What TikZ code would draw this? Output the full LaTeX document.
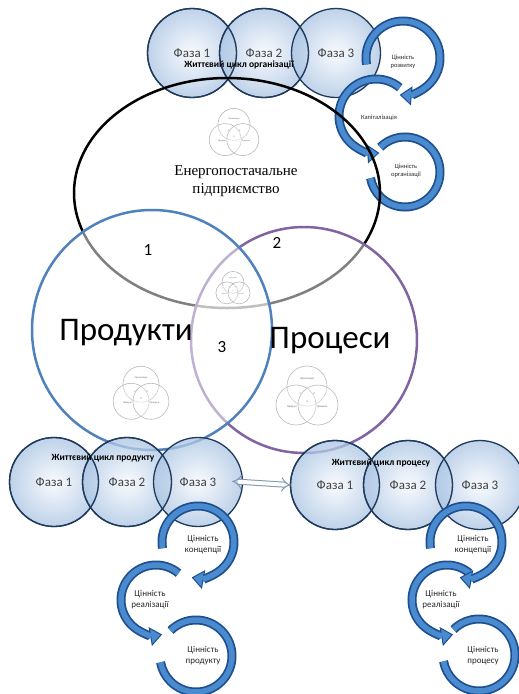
\documentclass[tikz,border=0pt]{standalone}
\usepackage{fontspec}
\setmainfont{Carlito}
\newfontfamily\seriffont{Liberation Serif}
\usetikzlibrary{arrows.meta,shapes.geometric}
\definecolor{bubblefill}{HTML}{A9C3E2}
\definecolor{bubbleinner}{HTML}{F6F9FD}
\definecolor{bubbleedge}{HTML}{1F3A5C}
\definecolor{ringblue}{HTML}{4A8BD0}
\definecolor{ringdark}{HTML}{1E4F8F}
\definecolor{procblue}{HTML}{4F81BD}
\definecolor{procpurple}{HTML}{8064A2}
\definecolor{arrowgray}{HTML}{7F95B0}
\tikzset{
  bubble/.style={circle, inner sep=0pt, minimum size=89pt, draw=bubbleedge, line width=1.3pt,
    inner color=bubbleinner, outer color=bubblefill, fill opacity=0.75, text opacity=1,
    font=\fontsize{13}{15}\selectfont, text=black!75},
  bubbleline/.style={circle, inner sep=0pt, minimum size=89pt, draw=bubbleedge, line width=1.3pt},
  lctitle/.style={font=\bfseries\fontsize{9.5}{11}\selectfont, text=black},
  ringo/.style={line width=9pt, draw=ringdark},
  ringi/.style={line width=5.5pt, draw=ringblue},
  ringtip/.style={-{Triangle[width=19pt,length=12pt,fill=ringblue,line width=1pt]}},
  ringtxt/.style={font=\fontsize{9}{11}\selectfont, align=center, text=black!85},
  smalltxt/.style={font=\fontsize{6.5}{7.5}\selectfont, align=center, text=black!85},
  bignum/.style={font=\fontsize{17}{19}\selectfont},
  biglabel/.style={font=\fontsize{33}{36}\selectfont},
  vcirc/.style={circle, draw=gray!55, line width=0.6pt, minimum size=40pt, inner sep=0pt, fill=white, fill opacity=0.3, transform shape},
  vtext/.style={font=\fontsize{2.8}{3}\selectfont, text=gray!80!black, transform shape, inner sep=0pt},
  venn/.pic={
    \node[vcirc] (-o) at (0,-12) {};
    \node[vcirc] (-p) at (-11,7) {};
    \node[vcirc] (-r) at (11,7) {};
    \node[vtext] (-to) at (0,-19) {Організація};
    \node[vtext] (-tp) at (-15,9) {Продукт};
    \node[vtext] (-tr) at (15,9) {Процеси};
    \node[vtext] (-n1) at (-7,-4) {1};
    \node[vtext] (-n2) at (7,-4) {2};
    \node[vtext] (-n3) at (0,4) {3};
  },
  dblarrow/.style={draw=arrowgray, line width=1pt, double=white, double distance=4pt,
    {Implies[scale=1.4]}-{Implies[scale=1.4]}}
}
\begin{document}
\begin{tikzpicture}[x=1pt,y=-1pt]
\useasboundingbox (0,0) rectangle (519,694);

% top life cycle bubbles
\node[bubble] (tb1) at (192,53) {Фаза 1};
\node[bubble] (tb2) at (264,53) {Фаза 2};
\node[bubble] (tb3) at (336,53) {Фаза 3};
\node[bubbleline] (tb1l) at (192,53) {};
\node[bubbleline] (tb2l) at (264,53) {};
\node[lctitle] (tt) at (239,65) {Життєвий цикл організації};

% top rings
\coordinate (ra) at (403,58);
\coordinate (rb) at (376,116);
\coordinate (rc) at (405,172);
\draw[ringo] (rc) ++(225:35) arc[start angle=225, end angle=530, radius=35];
\draw[ringi] (rc) ++(225:35) arc[start angle=225, end angle=530, radius=35];
\draw[ringo, ringtip] (rb) ++(310:37) arc[start angle=310, end angle=85, radius=37];
\draw[ringi, shorten >=11pt] (rb) ++(310:37) arc[start angle=310, end angle=85, radius=37];
\draw[ringo, ringtip] (ra) ++(170:37) arc[start angle=170, end angle=455, radius=37];
\draw[ringi, shorten >=11pt] (ra) ++(170:37) arc[start angle=170, end angle=455, radius=37];
\node[smalltxt] (ta) at (403,62) {Цінність\\розвитку};
\node[smalltxt] (tbk) at (379,118) {Капіталізація};
\node[smalltxt] (tc) at (406,171) {Цінність\\організації};

% enterprise ellipse and the two circles
\node[draw, ellipse, line width=2.5pt, minimum width=306pt, minimum height=230pt, inner sep=0pt] (org) at (227,193) {};
\node[circle, draw=procpurple, line width=2.5pt, minimum size=226pt, inner sep=0pt, fill=white, fill opacity=0.5] (proc) at (304,340) {};
\node[circle, draw=procblue, line width=2.5pt, minimum size=240pt, inner sep=0pt, fill=white, fill opacity=0.5] (prod) at (152,330) {};

\node[font=\seriffont\fontsize{15}{18}\selectfont, align=center] (ent) at (236,181) {Енергопостачальне\\підприємство};
\node[bignum] (n1) at (148,250) {1};
\node[bignum] (n2) at (277,243) {2};
\node[bignum] (n3) at (222,347) {3};
\node[biglabel] (lprod) at (126,333) {Продукти};
\node[biglabel] (lproc) at (330,341) {Процеси};

\pic[scale=0.8] (ic1) at (234,134) {venn};
\pic[scale=0.55] (ic2) at (233,289) {venn};
\pic[scale=0.9] (ic3) at (141,395) {venn};
\pic[scale=1.0] (ic4) at (307,398) {venn};

% bottom-left bubbles
\node[bubble] (pb1) at (54,482) {Фаза 1};
\node[bubble] (pb2) at (127,482) {Фаза 2};
\node[bubble] (pb3) at (198,482) {Фаза 3};
\node[bubbleline] (pb1l) at (54,482) {};
\node[bubbleline] (pb2l) at (127,482) {};
\node[lctitle] (pt) at (103,458) {Життєвий цикл продукту};

% bottom-right bubbles
\node[bubble] (rb1) at (335,485) {Фаза 1};
\node[bubble] (rb2) at (408,485) {Фаза 2};
\node[bubble] (rb3) at (480,485) {Фаза 3};
\node[bubbleline] (rb1l) at (335,485) {};
\node[bubbleline] (rb2l) at (408,485) {};
\node[lctitle] (rt) at (381,463) {Життєвий цикл процесу};

\draw[dblarrow, shorten <=-11pt, shorten >=-1pt] (pb3.east) -- (rb1.west);

% bottom-left rings
\coordinate (pa) at (198,542);
\coordinate (pbr) at (156,600);
\coordinate (pc) at (196,656);
\draw[ringo] (pc) ++(225:36) arc[start angle=225, end angle=530, radius=36];
\draw[ringi] (pc) ++(225:36) arc[start angle=225, end angle=530, radius=36];
\draw[ringo, ringtip] (pbr) ++(310:35) arc[start angle=310, end angle=80, radius=35];
\draw[ringi, shorten >=11pt] (pbr) ++(310:35) arc[start angle=310, end angle=80, radius=35];
\draw[ringo, ringtip] (pa) ++(170:36) arc[start angle=170, end angle=460, radius=36];
\draw[ringi, shorten >=11pt] (pa) ++(170:36) arc[start angle=170, end angle=460, radius=36];
\node[ringtxt] (pta) at (203,545) {Цінність\\концепції};
\node[ringtxt] (ptb) at (150,600) {Цінність\\реалізації};
\node[ringtxt] (ptc) at (203,656) {Цінність\\продукту};

% bottom-right rings
\coordinate (qa) at (466,542);
\coordinate (qb) at (447,600);
\coordinate (qc) at (479,655);
\draw[ringo] (qc) ++(225:36) arc[start angle=225, end angle=530, radius=36];
\draw[ringi] (qc) ++(225:36) arc[start angle=225, end angle=530, radius=36];
\draw[ringo, ringtip] (qb) ++(310:35) arc[start angle=310, end angle=80, radius=35];
\draw[ringi, shorten >=11pt] (qb) ++(310:35) arc[start angle=310, end angle=80, radius=35];
\draw[ringo, ringtip] (qa) ++(170:36) arc[start angle=170, end angle=460, radius=36];
\draw[ringi, shorten >=11pt] (qa) ++(170:36) arc[start angle=170, end angle=460, radius=36];
\node[ringtxt] (qta) at (473,545) {Цінність\\концепції};
\node[ringtxt] (qtb) at (441,600) {Цінність\\реалізації};
\node[ringtxt] (qtc) at (483,656) {Цінність\\процесу};
\end{tikzpicture}
\end{document}
